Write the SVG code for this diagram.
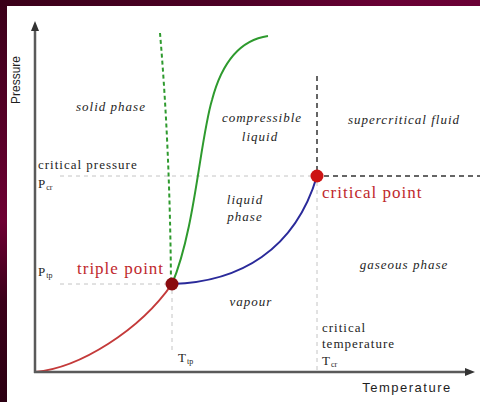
<svg xmlns="http://www.w3.org/2000/svg" width="480" height="402" viewBox="0 0 480 402">
  <defs>
    <linearGradient id="leftBorder" x1="0" y1="0" x2="0" y2="1">
      <stop offset="0" stop-color="#3a0019"/>
      <stop offset="0.35" stop-color="#5a0029"/>
      <stop offset="0.55" stop-color="#6e0033"/>
      <stop offset="0.75" stop-color="#3a0019"/>
      <stop offset="1" stop-color="#2c0012"/>
    </linearGradient>
    <linearGradient id="topBorder" x1="0" y1="0" x2="1" y2="0">
      <stop offset="0" stop-color="#3a0019"/>
      <stop offset="0.5" stop-color="#4e0026"/>
      <stop offset="0.8" stop-color="#680034"/>
      <stop offset="1" stop-color="#6a0035"/>
    </linearGradient>
    <style>
      .axis { stroke: #5a5a5a; stroke-width: 2.5; fill: none; }
      .guide { stroke: #c4c4c4; stroke-width: 1; stroke-dasharray: 4 4; fill: none; }
      .dark { stroke: #333; stroke-width: 1.5; stroke-dasharray: 5 4; fill: none; }
      .curve { fill: none; stroke-width: 2; }
      .lbl { font-family: "Liberation Serif", "DejaVu Serif", serif; font-size: 13px; letter-spacing: 1px; fill: #1e1e1e; }
      .it { font-style: italic; }
      .ax { font-family: "Liberation Sans", Arial, sans-serif; font-size: 12px; fill: #1e1e1e; }
      .axx { font-family: "Liberation Sans", Arial, sans-serif; font-size: 13px; letter-spacing: 1.5px; fill: #1e1e1e; }
      .red { font-family: "Liberation Serif", "DejaVu Serif", serif; font-size: 17px; letter-spacing: 1px; fill: #c0282d; }
      .sub { font-size: 8px; letter-spacing: 0; }
    </style>
  </defs>

  <!-- background frame -->
  <rect x="0" y="0" width="480" height="402" fill="url(#leftBorder)"/>
  <rect x="0" y="0" width="480" height="7" fill="url(#topBorder)"/>
  <rect x="7" y="6" width="473" height="396" fill="#ffffff"/>

  <!-- guide lines and connectors -->
  <g id="connectors">
    <line class="guide" x1="60" y1="176" x2="311" y2="176"/>
    <line class="guide" x1="317" y1="182" x2="317" y2="370"/>
    <line class="guide" x1="60" y1="284" x2="166" y2="284"/>
    <line class="guide" x1="172" y1="290" x2="172" y2="350"/>
    <line class="dark" x1="317" y1="76" x2="317" y2="170"/>
    <line class="dark" x1="324" y1="176" x2="480" y2="176"/>
    <path class="curve" stroke="#c43a3a" d="M35,372 C80,368 140,330 172,284"/>
    <path class="curve" stroke="#2a2a9a" d="M172,284 C240,282 295,250 317,176"/>
    <path class="curve" stroke="#2e9a2e" d="M172,284 C195,230 200,140 212,100 C222,62 240,40 268,36"/>
    <path class="curve" stroke="#2e9a2e" stroke-dasharray="4 3" d="M160,33 Q170,150 171,284"/>
  </g>

  <!-- axes -->
  <g id="axes">
    <line class="axis" x1="35" y1="373" x2="35" y2="30"/>
    <polygon points="35,21 31,31 39,31" fill="#333"/>
    <line class="axis" x1="34" y1="372" x2="466" y2="372"/>
    <polygon points="475,372 465,368 465,376" fill="#333"/>
    <text class="ax" transform="translate(20,80) rotate(-90)" text-anchor="middle">Pressure</text>
    <text class="axx" x="407" y="392" text-anchor="middle">Temperature</text>
  </g>

  <!-- region labels -->
  <g id="solid-phase"><text class="lbl it" x="111" y="111" text-anchor="middle">solid phase</text></g>
  <g id="compressible-liquid">
    <text class="lbl it" x="262" y="122" text-anchor="middle">compressible</text>
    <text class="lbl it" x="260" y="141" text-anchor="middle">liquid</text>
  </g>
  <g id="supercritical-fluid"><text class="lbl it" x="404" y="124" text-anchor="middle">supercritical fluid</text></g>
  <g id="liquid-phase">
    <text class="lbl it" x="245" y="204" text-anchor="middle">liquid</text>
    <text class="lbl it" x="245" y="221" text-anchor="middle">phase</text>
  </g>
  <g id="vapour"><text class="lbl it" x="251" y="306" text-anchor="middle">vapour</text></g>
  <g id="gaseous-phase"><text class="lbl it" x="404" y="269" text-anchor="middle">gaseous phase</text></g>

  <!-- axis value labels -->
  <g id="critical-pressure">
    <text class="lbl" x="38" y="169">critical pressure</text>
    <text class="lbl" x="38" y="188">P<tspan class="sub" dy="2">cr</tspan></text>
  </g>
  <g id="p-tp"><text class="lbl" x="38" y="276">P<tspan class="sub" dy="2">tp</tspan></text></g>
  <g id="t-tp"><text class="lbl" x="178" y="362">T<tspan class="sub" dy="2">tp</tspan></text></g>
  <g id="critical-temperature">
    <text class="lbl" x="322" y="332">critical</text>
    <text class="lbl" x="322" y="348">temperature</text>
    <text class="lbl" x="322" y="365">T<tspan class="sub" dy="2">cr</tspan></text>
  </g>

  <!-- points -->
  <g id="triple-point">
    <circle cx="172" cy="284" r="6.5" fill="#8a0c10"/>
    <text class="red" x="77" y="274">triple point</text>
  </g>
  <g id="critical-point">
    <circle cx="317" cy="176" r="6.5" fill="#cc1414"/>
    <text class="red" x="322" y="198">critical point</text>
  </g>
</svg>
